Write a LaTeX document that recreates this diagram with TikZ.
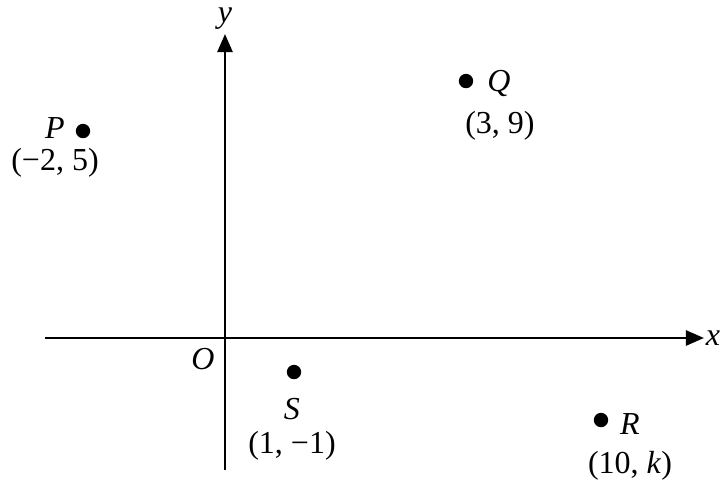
\documentclass[tikz,border=0pt]{standalone}
\usepackage{fontspec}
\setmainfont{Liberation Serif}
\usetikzlibrary{arrows.meta}

\begin{document}
\begin{tikzpicture}[x=0.5pt,y=-0.5pt,line width=1.2pt,>={Triangle[length=9pt,width=7.5pt]},
  font=\fontsize{16}{19}\selectfont]
  \useasboundingbox (0,0) rectangle (720,479);
  \coordinate (xl) at (45,338);
  \coordinate (xr) at (704,338);
  \coordinate (yb) at (225,470);
  \coordinate (yt) at (225,34);
  \draw[->] (xl) -- (xr);
  \draw[->] (yb) -- (yt);
  \node (xlab) at (713,338) {\textit{x}};
  \node (ylab) at (225,19) {\textit{y}};
  \node (O) at (203,359) {\textit{O}};
  % points
  \fill (83,131) circle (3.6pt) coordinate (P);
  \fill (466,81) circle (3.6pt) coordinate (Q);
  \fill (601,420) circle (3.6pt) coordinate (R);
  \fill (294,372) circle (3.6pt) coordinate (S);
  \node (Plab) at (55,128) {\textit{P}};
  \node (Pco) at (55,163) {(−2, 5)};
  \node (Qlab) at (499,83) {\textit{Q}};
  \node (Qco) at (500,126) {(3, 9)};
  \node (Rlab) at (630,424) {\textit{R}};
  \node (Rco) at (630,466) {(10, \textit{k})};
  \node (Slab) at (292,409) {\textit{S}};
  \node (Sco) at (292,446) {(1, −1)};
\end{tikzpicture}
\end{document}
